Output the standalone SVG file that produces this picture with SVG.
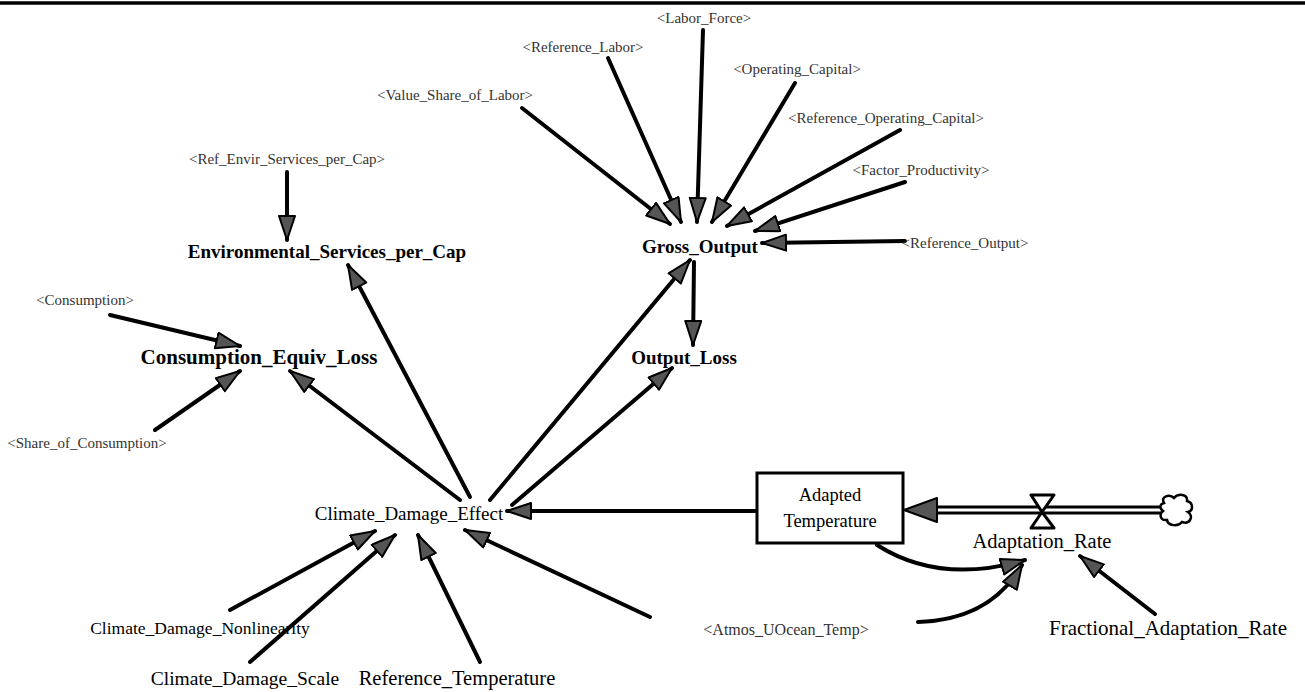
<svg xmlns="http://www.w3.org/2000/svg" width="1305" height="692" viewBox="0 0 1305 692">
<defs>
<style>
.sh{font-family:"Liberation Serif","Times New Roman",serif;font-size:15px;fill:#333;text-anchor:middle}
.bn{font-family:"Liberation Serif","Times New Roman",serif;font-size:19px;font-weight:bold;fill:#000;text-anchor:middle}
.rn{font-family:"Liberation Serif","Times New Roman",serif;font-size:19px;fill:#000;text-anchor:middle}
.ln{fill:none;stroke:#000;stroke-width:4;stroke-linecap:round;marker-end:url(#ah)}
</style>
<marker id="ah" markerUnits="userSpaceOnUse" markerWidth="27" markerHeight="20" refX="25" refY="9" orient="auto">
<path d="M1,1 L25,9 L1,17 Z" fill="#555" stroke="#000" stroke-width="2" stroke-linejoin="round"/>
</marker>
</defs>
<rect width="1305" height="692" fill="#fff"/>
<line x1="0" y1="3" x2="1305" y2="3" stroke="#000" stroke-width="3.5"/>

<g id="connectors">
<line class="ln" x1="703" y1="30" x2="697" y2="222"/>
<line class="ln" x1="608" y1="58" x2="681" y2="222"/>
<line class="ln" x1="522" y1="108" x2="670" y2="224"/>
<line class="ln" x1="795" y1="83" x2="712" y2="222"/>
<line class="ln" x1="900" y1="130" x2="727" y2="226"/>
<line class="ln" x1="905" y1="182" x2="755" y2="231"/>
<line class="ln" x1="905" y1="241" x2="762" y2="243"/>
<line class="ln" x1="287" y1="172" x2="287" y2="240"/>
<line class="ln" x1="110" y1="315" x2="240" y2="346"/>
<line class="ln" x1="155" y1="430" x2="240" y2="371"/>
<line class="ln" x1="460" y1="500" x2="290" y2="371"/>
<line class="ln" x1="470" y1="497" x2="348" y2="265"/>
<line class="ln" x1="490" y1="500" x2="690" y2="260"/>
<line class="ln" x1="694" y1="262" x2="693" y2="345"/>
<line class="ln" x1="512" y1="505" x2="672" y2="368"/>
<line class="ln" x1="757" y1="511" x2="507" y2="511"/>
<line class="ln" x1="230" y1="610" x2="375" y2="531"/>
<line class="ln" x1="250" y1="662" x2="395" y2="535"/>
<line class="ln" x1="480" y1="662" x2="418" y2="535"/>
<line class="ln" x1="650" y1="617" x2="465" y2="530"/>
<path class="ln" d="M877,545 Q940,585 1025,560"/>
<path class="ln" d="M918,622 Q990,620 1022,565"/>
<line class="ln" x1="1155" y1="614" x2="1080" y2="556"/>
</g>

<g id="flow">
<line x1="935" y1="510" x2="1162" y2="510" stroke="#000" stroke-width="9"/>
<line x1="935" y1="510" x2="1162" y2="510" stroke="#fff" stroke-width="3"/>
<path d="M904,510 L937,498 L937,522 Z" fill="#555" stroke="#000" stroke-width="2" stroke-linejoin="round"/>
<path d="M1031,495 L1054,495 L1042,512 Z M1031,528 L1054,528 L1042,512 Z" fill="#fff" stroke="#000" stroke-width="3" stroke-linejoin="round"/>
</g>

<g id="cloud">
<path d="M1164,503 C1160,496 1170,494 1174,498 C1178,493 1188,494 1187,501 C1194,503 1193,511 1188,512 C1194,516 1190,525 1182,522 C1178,527 1168,526 1167,520 C1160,521 1159,514 1163,511 C1159,508 1160,504 1164,503 Z" fill="#fff" stroke="#000" stroke-width="2.5"/>
</g>

<g id="Labor_Force"><text class="sh" x="704" y="23">&lt;Labor_Force&gt;</text></g>
<g id="Reference_Labor"><text class="sh" x="583" y="52">&lt;Reference_Labor&gt;</text></g>
<g id="Operating_Capital"><text class="sh" x="797" y="74">&lt;Operating_Capital&gt;</text></g>
<g id="Value_Share_of_Labor"><text class="sh" x="455" y="100">&lt;Value_Share_of_Labor&gt;</text></g>
<g id="Reference_Operating_Capital"><text class="sh" x="886" y="123">&lt;Reference_Operating_Capital&gt;</text></g>
<g id="Ref_Envir_Services_per_Cap"><text class="sh" x="287" y="164">&lt;Ref_Envir_Services_per_Cap&gt;</text></g>
<g id="Factor_Productivity"><text class="sh" x="921" y="175">&lt;Factor_Productivity&gt;</text></g>
<g id="Reference_Output"><text class="sh" x="965" y="248">&lt;Reference_Output&gt;</text></g>
<g id="Consumption"><text class="sh" x="85" y="305">&lt;Consumption&gt;</text></g>
<g id="Share_of_Consumption"><text class="sh" x="87" y="448">&lt;Share_of_Consumption&gt;</text></g>
<g id="Atmos_UOcean_Temp"><text class="sh" x="786" y="635" style="font-size:16px">&lt;Atmos_UOcean_Temp&gt;</text></g>

<g id="Gross_Output"><text class="bn" x="700" y="253">Gross_Output</text></g>
<g id="Environmental_Services_per_Cap"><text class="bn" x="327" y="258">Environmental_Services_per_Cap</text></g>
<g id="Consumption_Equiv_Loss"><text class="bn" x="259" y="364" style="font-size:21px">Consumption_Equiv_Loss</text></g>
<g id="Output_Loss"><text class="bn" x="684" y="364">Output_Loss</text></g>
<g id="Climate_Damage_Effect"><text class="rn" x="409" y="520">Climate_Damage_Effect</text></g>
<g id="Adapted_Temperature">
<rect x="757" y="473" width="146" height="70" fill="#fff" stroke="#000" stroke-width="3"/>
<text class="rn" x="830" y="501" style="font-size:18.5px">Adapted</text>
<text class="rn" x="830" y="527" style="font-size:18.5px">Temperature</text>
</g>
<g id="Adaptation_Rate"><text class="rn" x="1042" y="548" style="font-size:20.5px">Adaptation_Rate</text></g>
<g id="Climate_Damage_Nonlinearity"><text class="rn" x="200" y="634" style="font-size:17.5px">Climate_Damage_Nonlinearity</text></g>
<g id="Fractional_Adaptation_Rate"><text class="rn" x="1168" y="635" style="font-size:21px">Fractional_Adaptation_Rate</text></g>
<g id="Climate_Damage_Scale"><text class="rn" x="245" y="685" style="font-size:19.5px">Climate_Damage_Scale</text></g>
<g id="Reference_Temperature"><text class="rn" x="457" y="685" style="font-size:20.5px">Reference_Temperature</text></g>
</svg>
